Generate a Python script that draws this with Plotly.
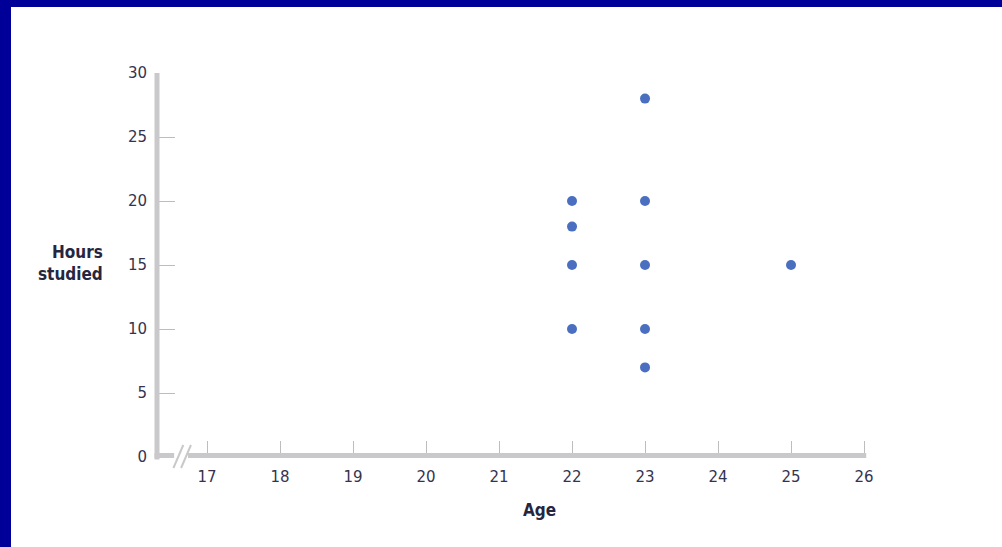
import plotly.graph_objects as go

# Data
ages = [22, 22, 22, 22, 23, 23, 23, 23, 23, 25]
hours = [20, 18, 15, 10, 28, 20, 15, 10, 7, 15]
x_ticks = [17, 18, 19, 20, 21, 22, 23, 24, 25, 26]
y_ticks = [0, 5, 10, 15, 20, 25, 30]

W, H = 1002, 547
ML, MR, MT, MB = 157, 136, 73, 90
X0, X1 = 16.315, 26.027
Y0, Y1 = 0, 30
AXIS = "#c9c9cb"
TXT = "#34344f"
PW = W - ML - MR
PH = H - MT - MB


def px(xd):
    return (xd - X0) / (X1 - X0)


fig = go.Figure(go.Scatter(
    x=ages, y=hours, mode="markers",
    marker=dict(color="#4a6fc1", size=10, line=dict(width=0)),
    hoverinfo="x+y",
))

tickfont = dict(family="DejaVu Sans, Verdana, sans-serif", size=15, color=TXT)

fig.update_xaxes(
    range=[X0, X1], tickvals=x_ticks, ticktext=[str(v) for v in x_ticks],
    showgrid=False, zeroline=False, showline=False,
    ticks="inside", ticklen=16, tickwidth=1, tickcolor="#bdbdbf",
    tickfont=tickfont, ticklabelstandoff=9,
)
fig.update_yaxes(
    range=[Y0, Y1], tickvals=y_ticks, ticktext=[str(v) for v in y_ticks],
    showgrid=False, zeroline=False, showline=False,
    ticks="inside", ticklen=18, tickwidth=1, tickcolor="#bdbdbf",
    tickfont=tickfont, ticklabelstandoff=9,
)

lw = 5
shapes = [
    # y axis line
    dict(type="line", xref="paper", yref="paper", x0=0, x1=0, y0=-lw / 2 / PH, y1=1,
         line=dict(color=AXIS, width=lw), layer="above"),
    # x axis line
    dict(type="line", xref="paper", yref="paper", x0=-lw / 2 / PW, x1=px(26.03), y0=1.5 / PH, y1=1.5 / PH,
         line=dict(color=AXIS, width=lw), layer="above"),
    # break gap
    dict(type="rect", xref="paper", yref="paper", x0=px(16.55), x1=px(16.74), y0=-6 / PH, y1=8 / PH,
         fillcolor="white", line=dict(width=0), layer="above"),
    # break slashes
    dict(type="line", xref="paper", yref="paper", x0=px(16.54), x1=px(16.675), y0=-11 / PH, y1=12 / PH,
         line=dict(color=AXIS, width=2), layer="above"),
    dict(type="line", xref="paper", yref="paper", x0=px(16.645), x1=px(16.78), y0=-11 / PH, y1=12 / PH,
         line=dict(color=AXIS, width=2), layer="above"),
    # border: left and top (navy)
    dict(type="rect", xref="paper", yref="paper", x0=-(ML + 2) / PW, x1=(11 - ML) / PW,
         y0=-(MB + 2) / PH, y1=(PH + MT + 2) / PH,
         fillcolor="#000099", line=dict(width=0), layer="above"),
    dict(type="rect", xref="paper", yref="paper", x0=-(ML + 2) / PW, x1=(W - ML + 2) / PW,
         y0=(PH + MT - 7) / PH, y1=(PH + MT + 2) / PH,
         fillcolor="#000099", line=dict(width=0), layer="above"),
]

lab_font = dict(family="DejaVu Sans Condensed, DejaVu Sans, sans-serif",
                size=17, color="#262640", weight="bold")
annotations = [
    dict(text="Hours<br>studied", xref="paper", yref="paper",
         x=(105 - ML) / PW, y=(457 - 263) / PH, xanchor="right", yanchor="middle",
         showarrow=False, align="right", font=lab_font),
    dict(text="Age", xref="paper", yref="paper",
         x=(539 - ML) / PW, y=(457 - 510) / PH, xanchor="center", yanchor="middle",
         showarrow=False, font=lab_font),
]

fig.update_layout(
    width=W, height=H, autosize=False,
    margin=dict(l=ML, r=MR, t=MT, b=MB, pad=0),
    paper_bgcolor="white", plot_bgcolor="white",
    showlegend=False, shapes=shapes, annotations=annotations,
)

fig.write_html("out.html", config={"displayModeBar": False},
               post_script="document.body.style.margin='0px';")
